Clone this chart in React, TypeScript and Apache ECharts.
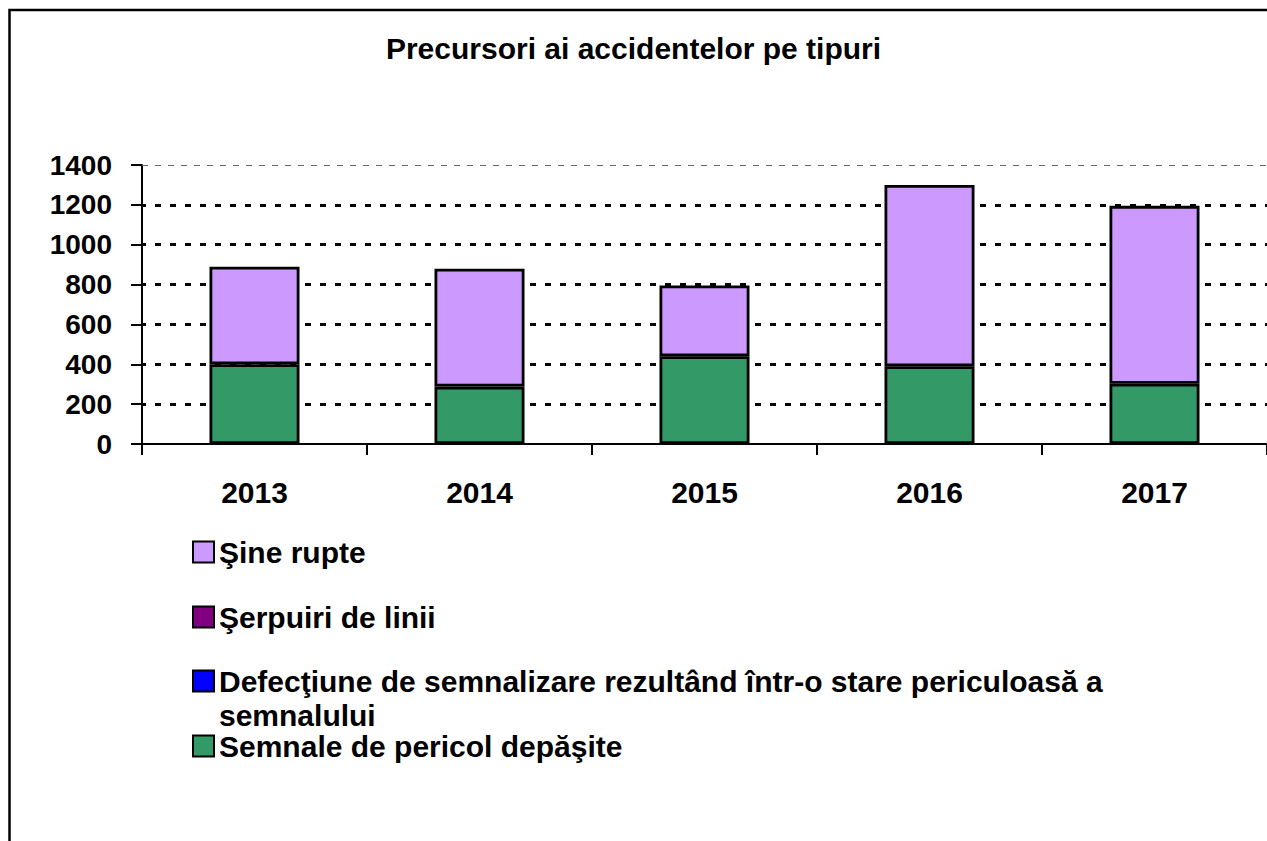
import React, { useEffect, useRef } from "react";
import * as echarts from "echarts";

const years = ["2013", "2014", "2015", "2016", "2017"];
const semnaleDepasite = [400, 288, 440, 390, 302];
const defectiuneSemnalizare = [0, 0, 0, 0, 0];
const serpuiriLinii = [0, 0, 0, 0, 0];
const sineRupte = [490, 592, 355, 910, 893];
const yTicks = [0, 200, 400, 600, 800, 1000, 1200, 1400];

const NAME_SINE = "Şine rupte";
const NAME_SERP = "Şerpuiri de linii";
const NAME_DEF = "Defecţiune de semnalizare rezultând într-o stare periculoasă a semnalului";
const NAME_SEMN = "Semnale de pericol depăşite";

const FONT = "'Liberation Sans', Arial, Helvetica, sans-serif";

export default function App() {
  const ref = useRef<HTMLDivElement>(null);
  useEffect(() => {
    document.body.style.margin = "0";
    const chart = echarts.init(ref.current!, null, { renderer: "svg" });
    const barBase = {
      type: "bar",
      stack: "total",
      barWidth: 90,
      itemStyle: { borderColor: "#000", borderWidth: 2.8 },
    };
    const legendText = { fontFamily: FONT, fontWeight: "bold", fontSize: 30, color: "#000", lineHeight: 32 };
    const legendCommon = {
      orient: "vertical",
      left: 192,
      padding: 0,
      itemWidth: 21,
      itemHeight: 21,
      icon: "rect",
      selectedMode: false,
      textStyle: legendText,
      itemStyle: { borderColor: "#000", borderWidth: 2 },
    };
    chart.setOption({
      animation: false,
      backgroundColor: "#fff",
      title: {
        text: "Precursori ai accidentelor pe tipuri",
        left: "center",
        top: 28,
        textStyle: { fontFamily: FONT, fontWeight: "bold", fontSize: 30, color: "#000" },
      },
      graphic: [
        {
          type: "rect",
          shape: { x: 9.5, y: 10, width: 1400, height: 1000 },
          style: { fill: "none", stroke: "#000", lineWidth: 2.5 },
          silent: true,
          z: 100,
        },
      ],
      legend: [
        { ...legendCommon, top: 536, data: [NAME_SINE] },
        { ...legendCommon, top: 601, data: [NAME_SERP] },
        {
          ...legendCommon,
          top: 630,
          data: [NAME_DEF],
          formatter: () => " \nDefecţiune de semnalizare rezultând într-o stare periculoasă a\nsemnalului",
          textStyle: { ...legendText, lineHeight: 34 },
        },
        { ...legendCommon, top: 730, data: [NAME_SEMN] },
      ],
      grid: { left: 142, top: 165, width: 1125, height: 279, containLabel: false },
      xAxis: {
        type: "category",
        data: years,
        axisLine: { show: true, lineStyle: { color: "#000", width: 2 } },
        axisTick: { show: true, length: 11, lineStyle: { color: "#000", width: 2 } },
        axisLabel: { margin: 33, fontFamily: FONT, fontWeight: "bold", fontSize: 30, color: "#000" },
        splitLine: { show: false },
      },
      yAxis: {
        type: "value",
        min: yTicks[0],
        max: yTicks[yTicks.length - 1],
        interval: 200,
        axisLine: { show: true, lineStyle: { color: "#000", width: 2 } },
        axisTick: { show: true, length: 11, lineStyle: { color: "#000", width: 2 } },
        axisLabel: {
          margin: 30,
          fontFamily: FONT,
          fontWeight: "bold",
          fontSize: 28,
          color: "#000",
          formatter: (v: number) => String(v),
        },
        splitLine: {
          show: true,
          lineStyle: {
            color: ["transparent", "#000", "#000", "#000", "#000", "#000", "#000", "transparent"],
            width: 3,
            type: [6, 9],
            dashOffset: 2,
          },
        },
      },
      series: [
        {
          ...barBase,
          name: NAME_SEMN,
          data: semnaleDepasite,
          itemStyle: { ...barBase.itemStyle, color: "#339966" },
          markLine: {
            silent: true,
            symbol: "none",
            label: { show: false },
            lineStyle: { color: "#666", width: 1, type: [6, 7] },
            data: [{ yAxis: yTicks[yTicks.length - 1] }],
          },
        },
        { ...barBase, name: NAME_DEF, data: defectiuneSemnalizare, itemStyle: { borderWidth: 0, color: "#0000FF", borderColor: "#000" } },
        { ...barBase, name: NAME_SERP, data: serpuiriLinii, itemStyle: { borderWidth: 0, color: "#800080", borderColor: "#000" } },
        { ...barBase, name: NAME_SINE, data: sineRupte, itemStyle: { ...barBase.itemStyle, color: "#CC99FF" } },
      ],
    });
    return () => chart.dispose();
  }, []);
  return <div ref={ref} style={{ width: 1267, height: 841 }} />;
}
